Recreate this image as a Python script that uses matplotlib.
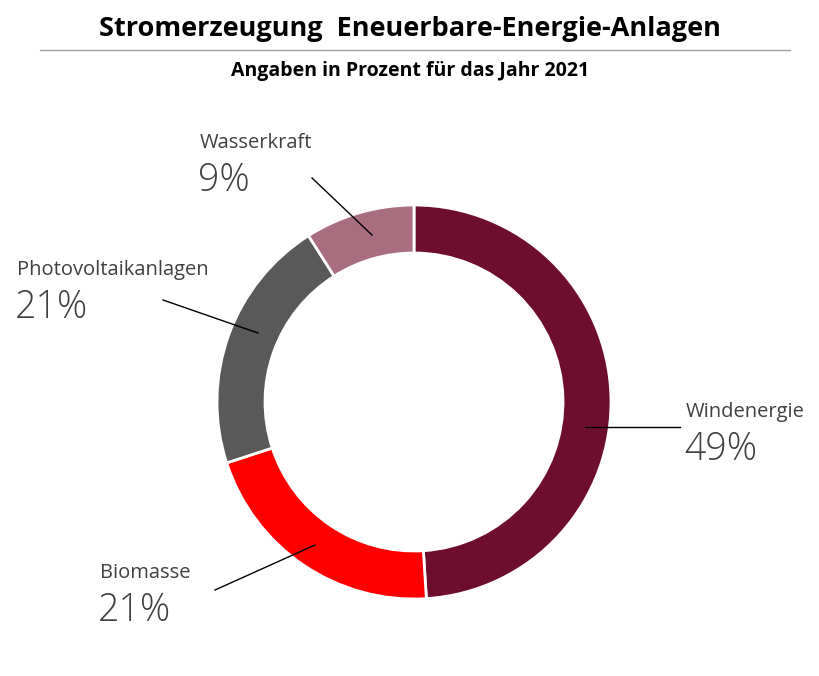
import matplotlib
matplotlib.use("Agg")
import matplotlib.pyplot as plt

# Daten
kategorien = ['Windenergie', 'Biomasse', 'Photovoltaikanlagen', 'Wasserkraft']
anteile = [49, 21, 21, 9]
farben = ['#6E0E2F', '#FF0000', '#595959', '#A86E80']

plt.rcParams['font.family'] = ['Open Sans', 'DejaVu Sans']
textfarbe = '#404040'

fig = plt.figure(figsize=(8.2, 6.76), dpi=100)
ax = fig.add_axes([0, 0, 1, 1])

# Ring
mitte = (414, 676 - 402)
ax.pie(anteile, colors=farben, startangle=90, counterclock=False,
       center=mitte, radius=197, frame=True,
       wedgeprops=dict(width=48, edgecolor='white', linewidth=2))
ax.set_xlim(0, 820)
ax.set_ylim(0, 676)
ax.set_aspect('equal')
ax.axis('off')

# Titel
fig.text(0.5, 1 - 29 / 676, 'Stromerzeugung  Eneuerbare-Energie-Anlagen',
         ha='center', va='center', fontsize=19.5, fontweight='bold', color='black')
ax.plot([40, 790], [676 - 50, 676 - 50], color='#a0a0a0', lw=1)
fig.text(0.5, 1 - 71 / 676, 'Angaben in Prozent für das Jahr 2021',
         ha='center', va='center', fontsize=14, fontweight='bold', color='black')

# Beschriftungen: (Textposition x, y) und Linie (von, bis) in Pixeln
beschriftung = {
    'Windenergie': ((686, 412), ((585, 427), (680, 427))),
    'Biomasse': ((100, 573), ((315, 545), (215, 590))),
    'Photovoltaikanlagen': ((17, 270), ((258, 333), (163, 300))),
    'Wasserkraft': ((200, 143), ((372, 235), (312, 178))),
}

for name, wert in zip(kategorien, anteile):
    (tx, ty), (p1, p2) = beschriftung[name]
    ax.text(tx, 676 - ty, name, ha='left', va='center', fontsize=14.5, color=textfarbe)
    ax.text(tx - 2, 676 - ty - 38, f'{wert}%', ha='left', va='center', fontsize=27,
            fontweight='light', color=textfarbe)
    ax.plot([p1[0], p2[0]], [676 - p1[1], 676 - p2[1]], color='black', lw=1)

fig.savefig('out.png', dpi=100)
